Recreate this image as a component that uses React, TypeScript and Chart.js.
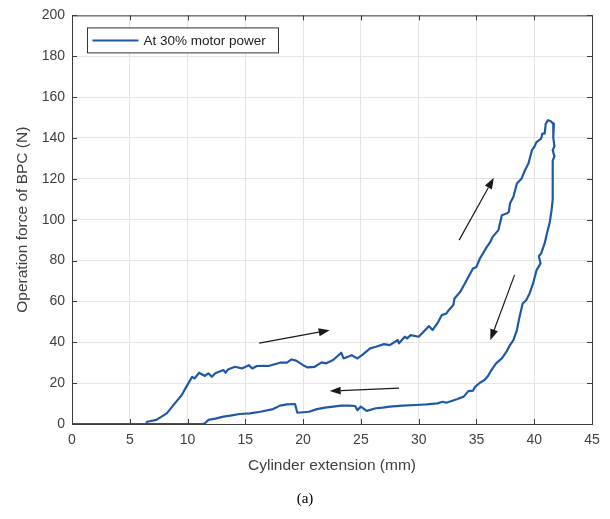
import React, { useEffect, useRef } from 'react';
import { Chart, registerables } from 'chart.js';

Chart.register(...registerables);

// Cylinder extension (mm), in recorded order (loading then unloading)
const extension = [
  0, 6.4, 6.5, 7.3, 8.2, 8.9, 9.5, 9.9, 10.4, 10.6, 11.0, 11.5, 11.8, 12.1, 12.4, 13.1, 13.3, 13.5, 14.1, 14.7,
  15.3, 15.6, 16.0, 16.6, 17.0, 18.0, 18.6, 19.0, 19.4, 20.0, 20.4, 21.0, 21.6, 22.0, 22.6, 23.3, 23.5, 24.2, 24.7, 25.1,
  25.8, 26.3, 27.0, 27.5, 28.2, 28.3, 28.8, 29.0, 29.3, 30.0, 30.9, 31.2, 31.7, 32.0, 32.4, 32.6, 33.0, 33.1, 33.6, 34.0,
  34.7, 35.0, 35.3, 35.9, 36.2, 36.4, 36.9, 37.2, 37.6, 37.8, 37.9, 38.2, 38.5, 38.9, 39.2, 39.5, 39.8, 40.0, 40.2, 40.6,
  40.7, 40.9, 41.0, 41.2, 41.4, 41.6,
  41.7, 41.65, 41.75, 41.6, 41.75, 41.6, 41.6, 41.5,
  41.35, 41.1, 40.9, 40.6, 40.4, 40.55, 40.2, 39.9, 39.6, 39.3, 39.0, 38.7, 38.5, 38.2, 37.9, 37.6, 37.2, 36.7, 36.3, 36.0,
  35.7, 35.3, 34.9, 34.7, 34.3, 33.9, 33.3, 32.4, 32.1, 31.6, 30.7, 29.8, 28.6, 27.5, 26.9, 26.3, 25.5, 25.0, 24.7, 24.5,
  24.0, 23.3, 22.6, 21.9, 21.2, 20.5, 19.5, 19.3, 18.6, 18.0, 17.4, 16.3, 15.4, 14.5, 13.7, 13.1, 12.4, 11.8, 11.5, 11.3, 0,
];

// Operation force of BPC (N)
const force = [
  0, 0, 1.1, 2.0, 5.2, 10.1, 14.2, 18.3, 23.1, 22.3, 25.1, 23.5, 24.8, 23.1, 24.8, 26.4, 25.1, 26.7, 28.0, 27.2,
  28.8, 27.2, 28.4, 28.5, 28.4, 30.0, 30.0, 31.6, 31.0, 28.8, 27.7, 28.0, 30.2, 29.7, 31.3, 34.9, 32.1, 33.7, 32.1, 33.7,
  37.0, 37.8, 39.1, 38.6, 41.1, 39.5, 42.7, 41.9, 43.5, 42.7, 47.9, 46.0, 50.0, 53.3, 54.1, 55.7, 58.2, 61.4, 64.7, 68.8,
  76.1, 76.9, 81.0, 86.7, 89.1, 91.6, 94.9, 102.2, 103.0, 103.8, 107.9, 111.2, 117.7, 120.1, 124.2, 127.5, 134.0, 135.6, 138.0, 139.7,
  142.1, 142.1, 147.0, 148.7, 148.3, 147.3,
  147.0, 140.0, 136.0, 134.0, 131.0, 129.0, 110.0, 104.6,
  98.9, 93.2, 88.4, 83.5, 82.1, 78.6, 75.3, 68.8, 63.9, 60.6, 59.0, 51.7, 46.0, 41.1, 38.6, 35.4, 32.1, 29.7, 26.4, 23.5,
  21.5, 20.2, 18.3, 16.3, 16.1, 13.4, 12.1, 10.4, 10.9, 10.1, 9.6, 9.3, 9.0, 8.5, 8.0, 7.7, 6.4, 8.5, 6.8, 8.8,
  9.0, 9.0, 8.5, 8.0, 7.3, 6.0, 5.5, 9.8, 9.6, 9.0, 7.3, 6.0, 5.2, 4.9, 4.1, 3.6, 2.6, 2.0, 0.3, 0, 0,
];

const seriesLabel = 'At 30% motor power';
const xTitle = 'Cylinder extension (mm)';
const yTitle = 'Operation force of BPC (N)';
const caption = '(a)';

// Direction arrows (data coordinates)
const arrowStartX = [16.2, 28.3, 33.5, 38.3];
const arrowStartY = [39.6, 17.6, 90.0, 73.0];
const arrowEndX = [22.3, 22.3, 36.5, 36.2];
const arrowEndY = [45.9, 16.1, 120.5, 41.0];

const FONT = "'Liberation Sans', Arial, Helvetica, sans-serif";
const LINE_COLOR = '#2058a8';
const AXIS_COLOR = '#3c3c3c';

const framePlugin = {
  id: 'matlabFrame',
  afterDatasetsDraw(chart: any) {
    const { ctx, chartArea: a, scales } = chart;
    const xs = scales.x;
    const ys = scales.y;
    ctx.save();
    // arrows
    ctx.strokeStyle = '#1a1a1a';
    ctx.fillStyle = '#1a1a1a';
    ctx.lineWidth = 1.2;
    for (let i = 0; i < arrowStartX.length; i++) {
      const x1 = xs.getPixelForValue(arrowStartX[i]);
      const y1 = ys.getPixelForValue(arrowStartY[i]);
      const x2 = xs.getPixelForValue(arrowEndX[i]);
      const y2 = ys.getPixelForValue(arrowEndY[i]);
      const ang = Math.atan2(y2 - y1, x2 - x1);
      const hl = 11;
      const hw = 4;
      const bx = x2 - hl * Math.cos(ang);
      const by = y2 - hl * Math.sin(ang);
      ctx.beginPath();
      ctx.moveTo(x1, y1);
      ctx.lineTo(bx, by);
      ctx.stroke();
      ctx.beginPath();
      ctx.moveTo(x2, y2);
      ctx.lineTo(bx + hw * Math.sin(ang), by - hw * Math.cos(ang));
      ctx.lineTo(bx - hw * Math.sin(ang), by + hw * Math.cos(ang));
      ctx.closePath();
      ctx.fill();
    }
    // box
    ctx.strokeStyle = AXIS_COLOR;
    ctx.lineWidth = 1;
    ctx.strokeRect(a.left + 0.5, a.top + 0.5, a.right - a.left, a.bottom - a.top);
    // inward ticks
    const tl = 5;
    ctx.beginPath();
    xs.ticks.forEach((t: any) => {
      const px = Math.round(xs.getPixelForValue(t.value)) + 0.5;
      ctx.moveTo(px, a.bottom);
      ctx.lineTo(px, a.bottom - tl);
      ctx.moveTo(px, a.top);
      ctx.lineTo(px, a.top + tl);
    });
    ys.ticks.forEach((t: any) => {
      const py = Math.round(ys.getPixelForValue(t.value)) + 0.5;
      ctx.moveTo(a.left, py);
      ctx.lineTo(a.left + tl, py);
      ctx.moveTo(a.right, py);
      ctx.lineTo(a.right - tl, py);
    });
    ctx.stroke();
    // legend
    const lx = a.left + 15.5;
    const ly = a.top + 12.5;
    const lw = 191;
    const lh = 25;
    ctx.fillStyle = '#ffffff';
    ctx.fillRect(lx, ly, lw, lh);
    ctx.strokeStyle = '#333333';
    ctx.strokeRect(lx, ly, lw, lh);
    ctx.strokeStyle = LINE_COLOR;
    ctx.lineWidth = 2;
    ctx.beginPath();
    ctx.moveTo(lx + 5, ly + lh / 2);
    ctx.lineTo(lx + 51, ly + lh / 2);
    ctx.stroke();
    ctx.fillStyle = '#222222';
    ctx.font = `13.5px ${FONT}`;
    ctx.textBaseline = 'middle';
    ctx.textAlign = 'left';
    ctx.fillText(chart.data.datasets[0].label, lx + 56, ly + lh / 2 + 0.5);
    ctx.restore();
  },
};

export default function App() {
  const ref = useRef<HTMLCanvasElement | null>(null);

  useEffect(() => {
    if (!ref.current) return;
    const points = extension.map((x, i) => ({ x, y: force[i] }));
    const chart = new Chart(ref.current, {
      type: 'line',
      data: {
        datasets: [
          {
            label: seriesLabel,
            data: points,
            borderColor: LINE_COLOR,
            backgroundColor: LINE_COLOR,
            borderWidth: 2.2,
            pointRadius: 0,
            tension: 0,
            fill: false,
            borderJoinStyle: 'round',
          },
        ],
      },
      options: {
        animation: false,
        responsive: false,
        layout: { padding: { left: 0, top: 14, right: 18, bottom: 44 } },
        plugins: { legend: { display: false }, tooltip: { enabled: false } },
        scales: {
          x: {
            type: 'linear',
            min: 0,
            max: 45,
            ticks: { stepSize: 5, color: '#404040', font: { family: FONT, size: 14 }, padding: 8, maxRotation: 0 },
            grid: { color: '#e4e4e4', drawTicks: false },
            border: { display: false },
            title: { display: true, text: xTitle, color: '#404040', font: { family: FONT, size: 15.5 }, padding: { top: 0, bottom: 0 } },
            afterFit(scale: any) {
              scale.height = 51;
            },
          },
          y: {
            type: 'linear',
            min: 0,
            max: 200,
            ticks: { stepSize: 20, color: '#404040', font: { family: FONT, size: 14 }, padding: 7 },
            grid: { color: '#e4e4e4', drawTicks: false },
            border: { display: false },
            title: { display: true, text: yTitle, color: '#404040', font: { family: FONT, size: 15.5 }, padding: { top: 13, bottom: 0 } },
            afterFit(scale: any) {
              scale.width = 72;
            },
          },
        },
      },
      plugins: [framePlugin],
    });
    return () => chart.destroy();
  }, []);

  return (
    <div style={{ position: 'absolute', left: 0, top: 0, width: 610, height: 519, background: '#ffffff' }}>
      <canvas ref={ref} width={610} height={519} />
      <div
        style={{
          position: 'absolute',
          left: 0,
          top: 489,
          width: 610,
          textAlign: 'center',
          fontFamily: "'Liberation Serif', 'Times New Roman', serif",
          fontSize: 15,
          color: '#000000',
          lineHeight: '18px',
        }}
      >
        {caption}
      </div>
    </div>
  );
}
